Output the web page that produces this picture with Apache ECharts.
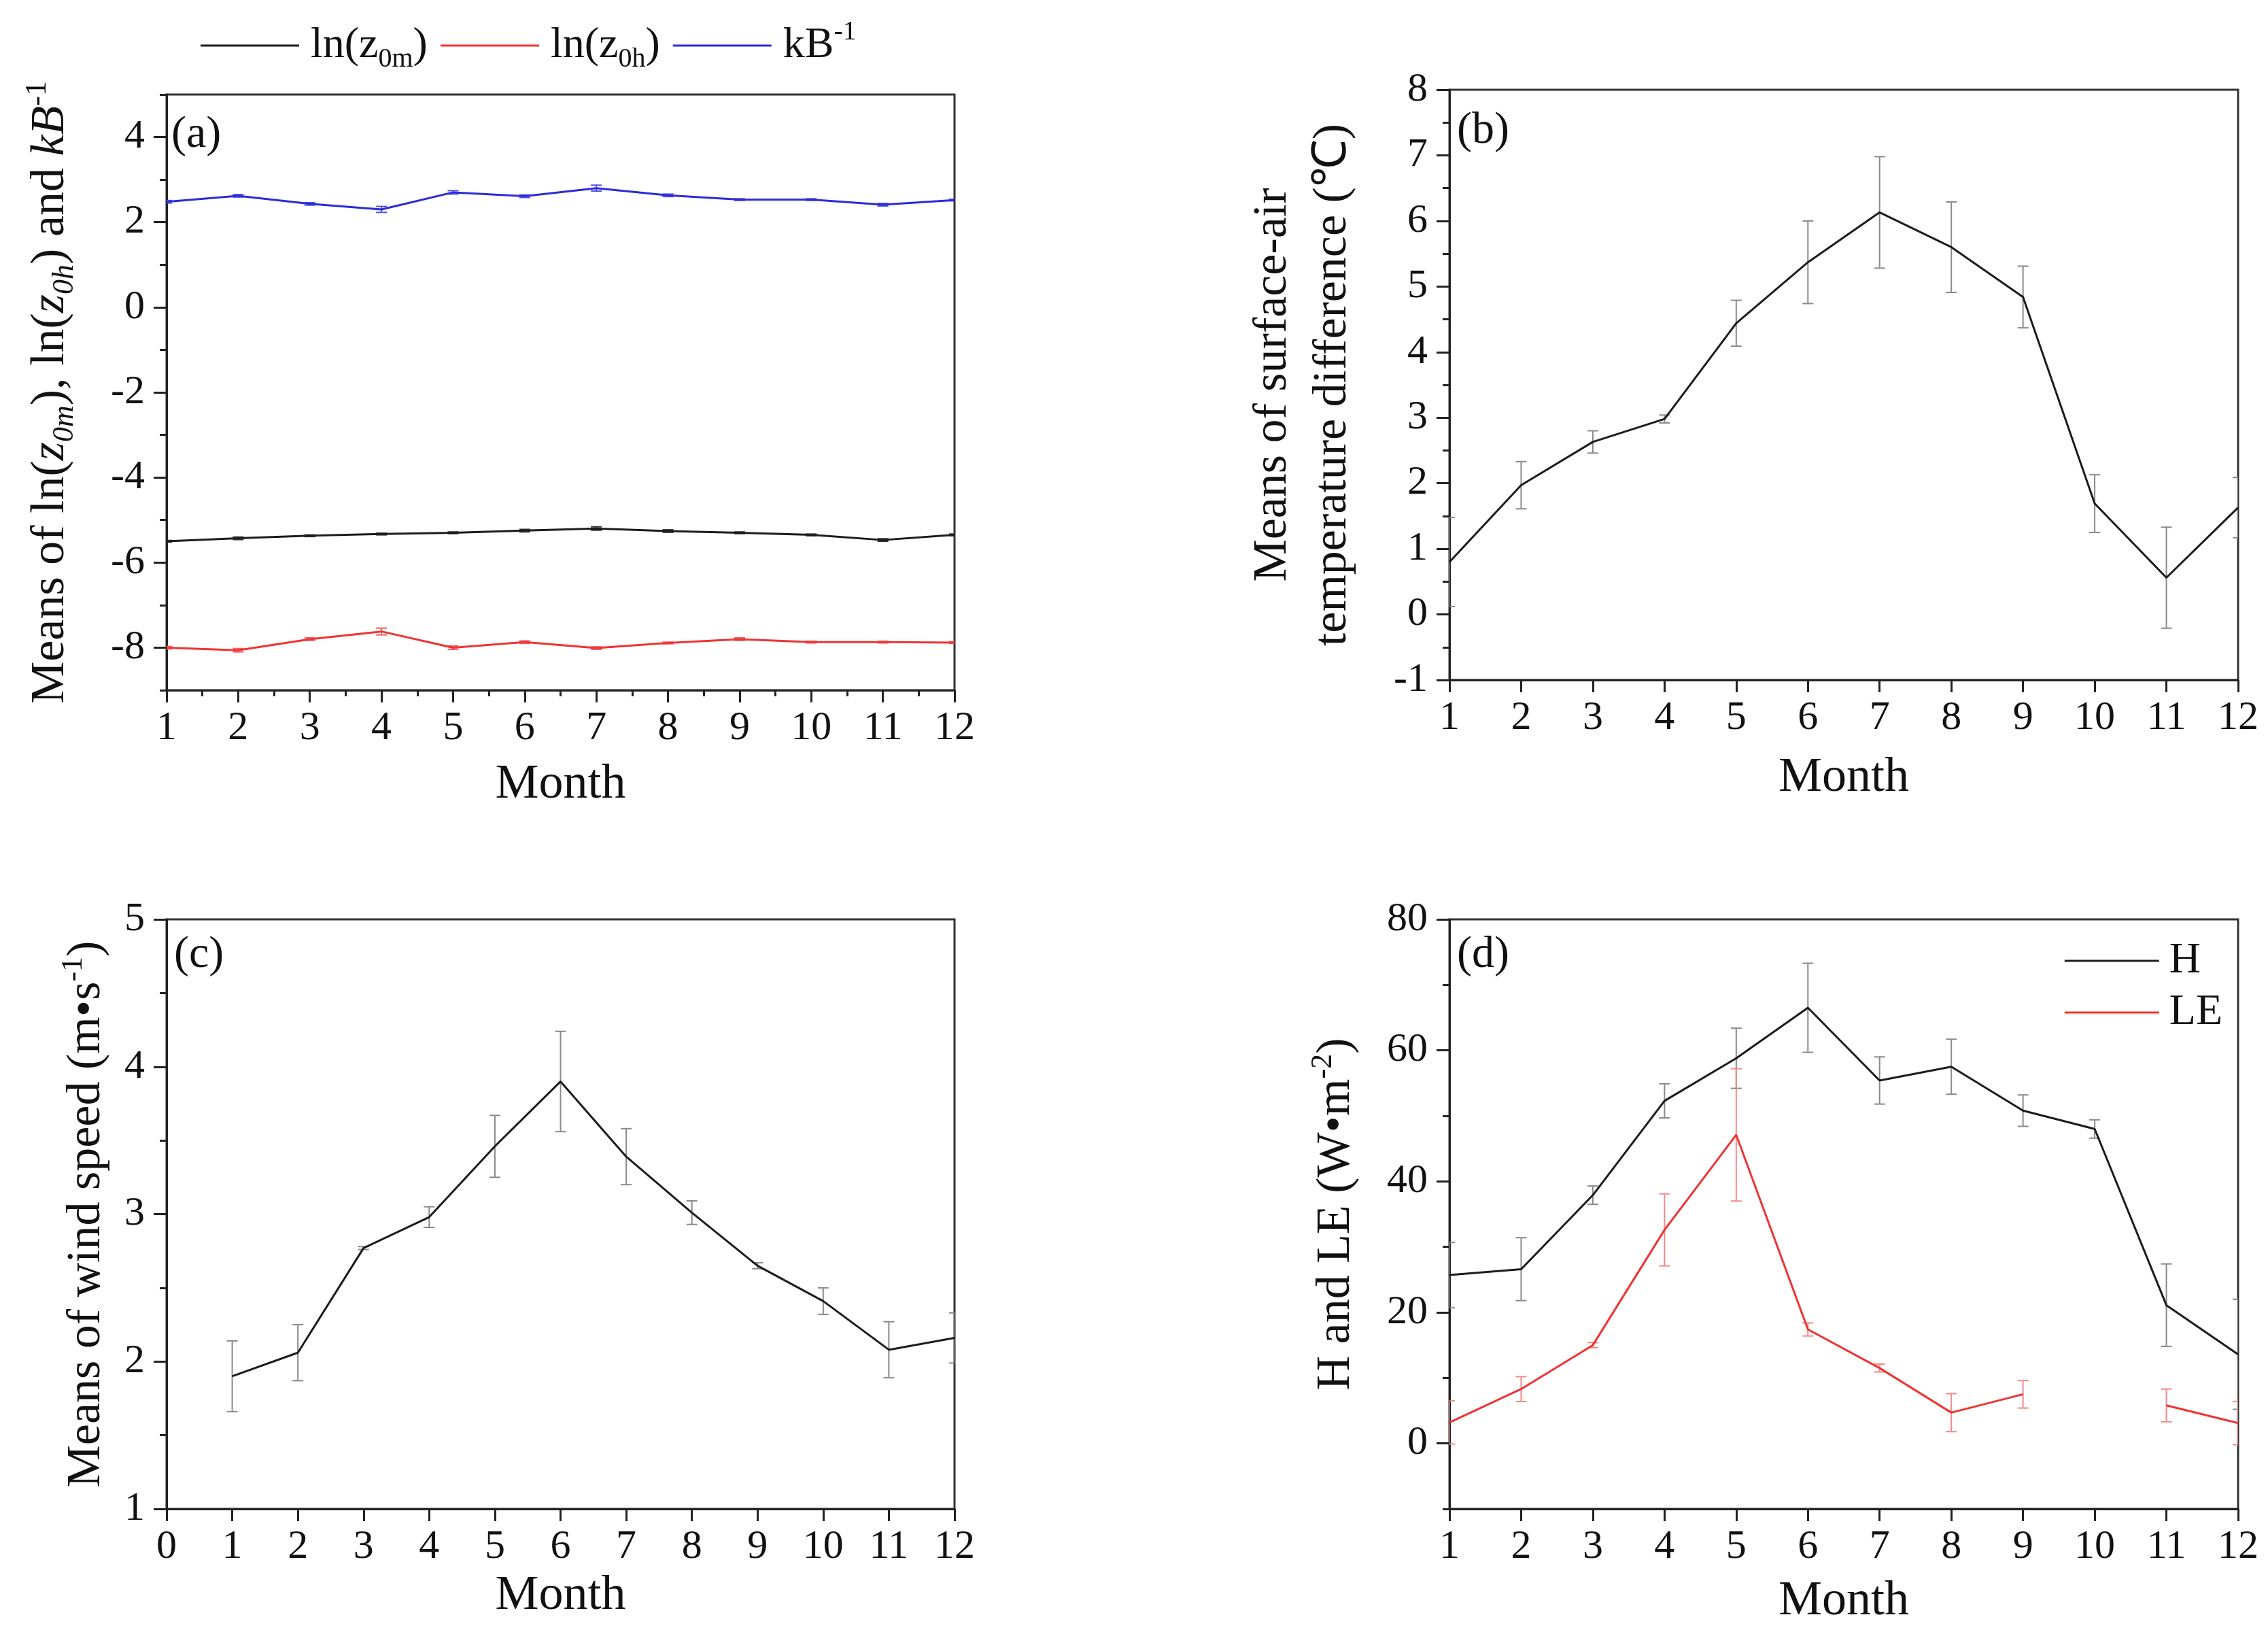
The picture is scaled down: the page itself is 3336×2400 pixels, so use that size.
<!DOCTYPE html>
<html>
<head>
<meta charset="utf-8">
<script src="https://cdn.jsdelivr.net/npm/echarts@6.0.0/dist/echarts.min.js"></script>
<style>
html, body { margin: 0; padding: 0; background: #fff; }
#main { width: 3336px; height: 2400px; }
</style>
</head>
<body>
<div id="main"></div>
<script>
var months = [1, 2, 3, 4, 5, 6, 7, 8, 9, 10, 11, 12];

// (a) roughness lengths and kB-1
var z0m = [-5.50, -5.43, -5.37, -5.33, -5.30, -5.25, -5.20, -5.26, -5.30, -5.35, -5.47, -5.35];
var z0mErr = [0.02, 0.03, 0.02, 0.02, 0.02, 0.03, 0.04, 0.03, 0.02, 0.02, 0.03, 0.02];
var z0h = [-8.00, -8.06, -7.80, -7.62, -8.00, -7.87, -8.01, -7.89, -7.80, -7.87, -7.87, -7.88];
var z0hErr = [0.03, 0.04, 0.03, 0.08, 0.04, 0.03, 0.03, 0.02, 0.03, 0.02, 0.02, 0.02];
var kB = [2.48, 2.62, 2.43, 2.30, 2.70, 2.61, 2.80, 2.63, 2.53, 2.53, 2.41, 2.52];
var kBErr = [0.03, 0.03, 0.03, 0.07, 0.04, 0.03, 0.07, 0.03, 0.02, 0.02, 0.03, 0.02];

// (b) surface-air temperature difference
var dT = [0.80, 1.97, 2.63, 2.98, 4.44, 5.37, 6.13, 5.60, 4.84, 1.69, 0.56, 1.63];
var dTErr = [0.68, 0.36, 0.17, 0.06, 0.35, 0.63, 0.85, 0.69, 0.47, 0.44, 0.77, 0.46];

// (c) wind speed
var ws = [1.90, 2.06, 2.77, 2.98, 3.46, 3.90, 3.39, 3.01, 2.65, 2.41, 2.08, 2.16];
var wsErr = [0.24, 0.19, 0.01, 0.07, 0.21, 0.34, 0.19, 0.08, 0.02, 0.09, 0.19, 0.17];

// (d) H and LE
var H = [25.7, 26.6, 37.9, 52.3, 58.8, 66.5, 55.4, 57.5, 50.8, 48.0, 21.1, 13.6];
var HErr = [5.0, 4.8, 1.4, 2.6, 4.6, 6.8, 3.6, 4.2, 2.4, 1.4, 6.3, 8.4];
var LE = [3.2, 8.3, 15.0, 32.6, 47.1, 17.4, 11.5, 4.7, 7.5, null, 5.8, 3.1];
var LEErr = [3.3, 1.9, 0.4, 5.5, 10.1, 1.0, 0.6, 2.9, 2.1, null, 2.5, 3.3];

// tick values where a plain interval can't start at min
var ticksA = [-8, -6, -4, -2, 0, 2, 4];
var minorA = [-9, -7, -5, -3, -1, 1, 3, 5];
var ticksD = [0, 20, 40, 60, 80];
var minorD = [-10, 10, 30, 50, 70];

var FONT = '"Liberation Serif", "Times New Roman", serif';
var INK = '#111';

var myChart = echarts.init(document.getElementById('main'));

function pairs(vals) {
    return months.map(function (m, i) { return [m, vals[i]]; });
}

function errSeries(xi, yi, vals, errs, color) {
    var data = [];
    for (var i = 0; i < months.length; i++) {
        if (vals[i] == null) continue;
        data.push([months[i], vals[i] - errs[i], vals[i] + errs[i]]);
    }
    return {
        type: 'custom',
        xAxisIndex: xi,
        yAxisIndex: yi,
        clip: true,
        silent: true,
        z: 1,
        renderItem: function (params, api) {
            var lo = api.coord([api.value(0), api.value(1)]);
            var hi = api.coord([api.value(0), api.value(2)]);
            var w = 8;
            var st = { stroke: color, lineWidth: 2 };
            return {
                type: 'group',
                children: [
                    { type: 'line', shape: { x1: lo[0], y1: lo[1], x2: hi[0], y2: hi[1] }, style: st },
                    { type: 'line', shape: { x1: lo[0] - w, y1: lo[1], x2: lo[0] + w, y2: lo[1] }, style: st },
                    { type: 'line', shape: { x1: hi[0] - w, y1: hi[1], x2: hi[0] + w, y2: hi[1] }, style: st }
                ]
            };
        },
        data: data
    };
}

function lineSeries(name, xi, yi, vals, color) {
    return {
        name: name,
        type: 'line',
        xAxisIndex: xi,
        yAxisIndex: yi,
        symbol: 'none',
        connectNulls: false,
        z: 3,
        lineStyle: { color: color, width: 3 },
        itemStyle: { color: color },
        data: pairs(vals)
    };
}

var grids = [
    { left: 245, top: 139, width: 1159, height: 876 },
    { left: 2132, top: 132, width: 1160, height: 868 },
    { left: 245, top: 1352, width: 1159, height: 867 },
    { left: 2132, top: 1352, width: 1160, height: 867 }
];
grids.forEach(function (g) {
    g.show = true;
    g.borderColor = '#333';
    g.borderWidth = 3;
    g.containLabel = false;
});

var axisLineStyle = { show: true, onZero: false, lineStyle: { color: '#222', width: 3 } };
var tickStyle = { color: '#222', width: 3 };

function xAxis(gi, min, minor, gap) {
    return {
        type: 'value',
        gridIndex: gi,
        min: min,
        max: 12,
        interval: 1,
        name: 'Month',
        nameLocation: 'middle',
        nameGap: gap,
        nameTextStyle: { fontFamily: FONT, fontSize: 72, color: INK },
        axisLine: axisLineStyle,
        axisTick: { show: true, inside: false, length: 18, lineStyle: tickStyle },
        minorTick: { show: minor, splitNumber: 2, length: 9, lineStyle: tickStyle },
        axisLabel: { fontFamily: FONT, fontSize: 60, color: INK, margin: 26 },
        splitLine: { show: false }
    };
}

var subRich = {
    n: { fontFamily: FONT, fontSize: 70, lineHeight: 84, color: INK },
    i: { fontFamily: FONT, fontSize: 70, lineHeight: 84, fontStyle: 'italic', color: INK },
    is: { fontFamily: FONT, fontSize: 44, lineHeight: 24, fontStyle: 'italic', verticalAlign: 'bottom', color: INK },
    sp: { fontFamily: FONT, fontSize: 44, lineHeight: 34, verticalAlign: 'top', color: INK }
};

function yAxis(gi, min, max, interval, name, gap, extra) {
    var ax = {
        type: 'value',
        gridIndex: gi,
        position: 'left',
        min: min,
        max: max,
        interval: interval,
        name: name,
        nameLocation: 'middle',
        nameGap: gap,
        nameTextStyle: { fontFamily: FONT, fontSize: 70, lineHeight: 88, color: INK, rich: subRich },
        axisLine: axisLineStyle,
        axisTick: { show: true, inside: false, length: 19, lineStyle: tickStyle },
        minorTick: { show: false },
        axisLabel: { fontFamily: FONT, fontSize: 60, color: INK, margin: 32 },
        splitLine: { show: false }
    };
    if (extra) extra(ax);
    return ax;
}

function minorOverlay(gi, min, max, values) {
    return {
        type: 'value',
        gridIndex: gi,
        position: 'left',
        offset: 0,
        min: min,
        max: max,
        interval: 1,
        axisLine: { show: false, onZero: false },
        axisTick: { show: true, inside: false, length: 10, lineStyle: tickStyle, customValues: values },
        axisLabel: { show: false },
        splitLine: { show: false }
    };
}

var xAxes = [
    xAxis(0, 1, true, 103),
    xAxis(1, 1, false, 108),
    xAxis(2, 0, false, 92),
    xAxis(3, 1, false, 100)
];

var yAxes = [
    yAxis(0, -9, 5, 1,
        '{n|Means of ln(}{i|z}{is|0m}{n|), ln(}{i|z}{is|0h}{n|) and }{i|kB}{sp|-1}', 128,
        function (ax) {
            ax.axisTick.customValues = ticksA;
            ax.axisLabel.customValues = ticksA;
        }),
    yAxis(1, -1, 8, 1, 'Means of surface-air\ntemperature difference (℃)', 127,
        function (ax) { ax.minorTick = { show: true, splitNumber: 2, length: 10, lineStyle: tickStyle }; }),
    yAxis(2, 1, 5, 1, '{n|Means of wind speed (m•s}{sp|-1}{n|)}', 75,
        function (ax) { ax.minorTick = { show: true, splitNumber: 2, length: 10, lineStyle: tickStyle }; }),
    yAxis(3, -10, 80, 10, '{n|H and LE (W•m}{sp|-2}{n|)}', 124,
        function (ax) {
            ax.axisTick.customValues = ticksD;
            ax.axisLabel.customValues = ticksD;
        }),
    minorOverlay(0, -9, 5, minorA),
    minorOverlay(3, -10, 80, minorD)
];

var RED = '#f03434';
var BLUE = '#2c2cd8';
var BLACK = '#1c1c1c';

var legendRich = {
    n: { fontFamily: FONT, fontSize: 64, lineHeight: 80, color: INK },
    s: { fontFamily: FONT, fontSize: 40, lineHeight: 20, verticalAlign: 'bottom', color: INK },
    p: { fontFamily: FONT, fontSize: 40, lineHeight: 30, verticalAlign: 'top', color: INK }
};
var legendText = {
    'ln(z0m)': '{n|ln(z}{s|0m}{n|)}',
    'ln(z0h)': '{n|ln(z}{s|0h}{n|)}',
    'kB-1': '{n|kB}{p|-1}'
};

var option = {
    backgroundColor: '#fff',
    animation: false,
    grid: grids,
    xAxis: xAxes,
    yAxis: yAxes,
    legend: [
        {
            data: ['ln(z0m)', 'ln(z0h)', 'kB-1'],
            left: 290,
            top: 22,
            icon: 'rect',
            itemWidth: 145,
            itemHeight: 3,
            itemGap: 19,
            formatter: function (name) { return legendText[name]; },
            textStyle: { padding: [0, 0, 0, 12], rich: legendRich }
        },
        {
            data: ['H', 'LE'],
            orient: 'vertical',
            right: 62,
            top: 1370,
            icon: 'rect',
            itemWidth: 139,
            itemHeight: 3,
            itemGap: 0,
            textStyle: { fontFamily: FONT, fontSize: 64, lineHeight: 76, color: INK, padding: [0, 0, 0, 10] }
        }
    ],
    graphic: [
        { type: 'text', left: 252, top: 166, style: { text: '(a)', fontFamily: FONT, fontSize: 66, fill: INK } },
        { type: 'text', left: 2143, top: 160, style: { text: '(b)', fontFamily: FONT, fontSize: 66, fill: INK } },
        { type: 'text', left: 256, top: 1372, style: { text: '(c)', fontFamily: FONT, fontSize: 66, fill: INK } },
        { type: 'text', left: 2143, top: 1372, style: { text: '(d)', fontFamily: FONT, fontSize: 66, fill: INK } }
    ],
    series: [
        errSeries(0, 0, z0m, z0mErr, '#333'),
        errSeries(0, 0, z0h, z0hErr, '#f06060'),
        errSeries(0, 0, kB, kBErr, '#5050e0'),
        lineSeries('ln(z0m)', 0, 0, z0m, BLACK),
        lineSeries('ln(z0h)', 0, 0, z0h, RED),
        lineSeries('kB-1', 0, 0, kB, BLUE),

        errSeries(1, 1, dT, dTErr, '#8a8a8a'),
        lineSeries('dT', 1, 1, dT, BLACK),

        errSeries(2, 2, ws, wsErr, '#8a8a8a'),
        lineSeries('ws', 2, 2, ws, BLACK),

        errSeries(3, 3, H, HErr, '#8a8a8a'),
        errSeries(3, 3, LE, LEErr, '#f38a8a'),
        lineSeries('H', 3, 3, H, BLACK),
        lineSeries('LE', 3, 3, LE, RED)
    ]
};

myChart.setOption(option);

window.onresize = function () {
    myChart.resize();
};
</script>
</body>
</html>
